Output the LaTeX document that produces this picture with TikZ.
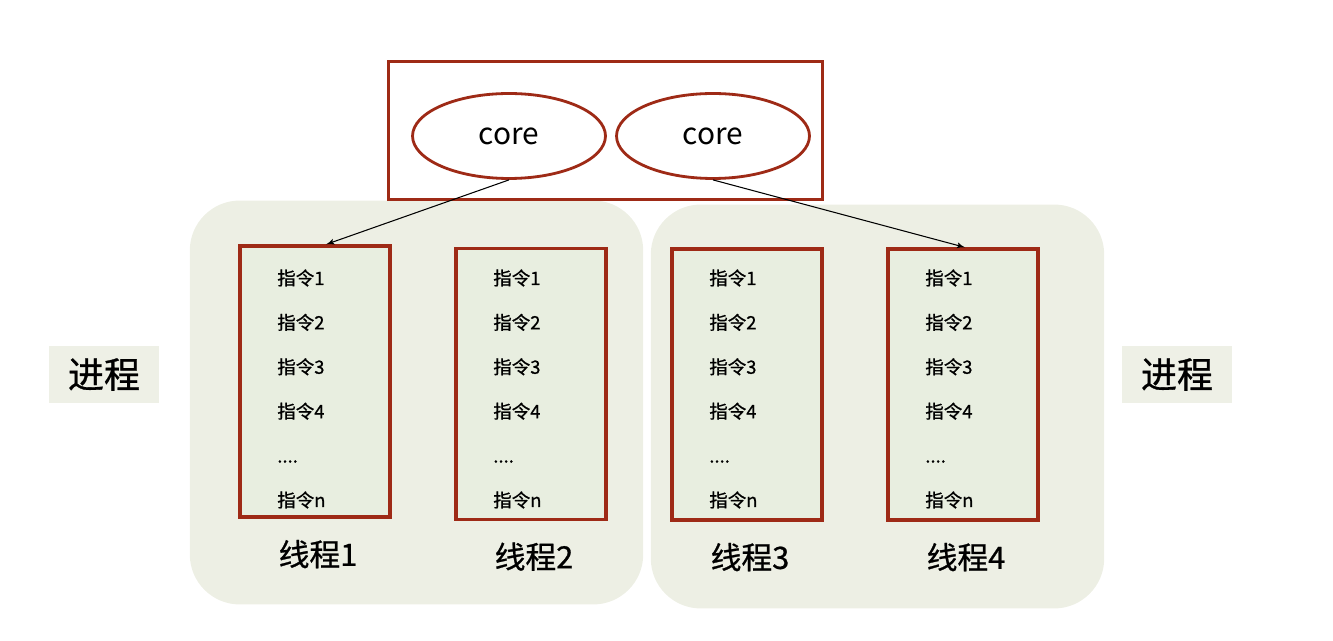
\documentclass[tikz,border=0pt]{standalone}
\usepackage{fontspec}
\setmainfont{Noto Sans CJK SC}
\newfontfamily\heavycjk[FakeBold=0.8]{Noto Sans CJK SC}
\usetikzlibrary{calc,arrows,positioning,shapes.geometric}
\definecolor{corered}{RGB}{158,42,22}
\definecolor{procbg}{RGB}{237,239,228}
\definecolor{thrbg}{RGB}{232,238,224}
\definecolor{tagbg}{RGB}{238,240,230}
\newcommand{\instrdots}{....}
\tikzstyle{cpubox} = [draw=corered, fill=white, line width=1.7pt, rectangle,
    minimum width=8.7cm, minimum height=2.78cm]
\tikzstyle{core} = [draw=corered, fill=white, line width=1.6pt, ellipse,
    minimum width=3.86cm, minimum height=1.7cm, font=\fontsize{17pt}{20pt}\selectfont]
\tikzstyle{proc} = [fill=procbg, rectangle, rounded corners=1cm,
    minimum width=9.07cm, minimum height=8.08cm]
\tikzstyle{thread} = [draw=corered, fill=thrbg, line width=1.9pt, rectangle,
    minimum width=3cm, minimum height=5.42cm]
\tikzstyle{instr} = [anchor=base west, inner sep=0pt, font=\heavycjk\fontsize{10.5pt}{12pt}\selectfont]
\tikzstyle{thrlabel} = [inner sep=0pt, font=\heavycjk\fontsize{17.5pt}{20pt}\selectfont]
\tikzstyle{tag} = [fill=tagbg, rectangle, minimum width=2.22cm, minimum height=1.14cm,
    font=\heavycjk\fontsize{20.5pt}{22pt}\selectfont]

\begin{document}
\begin{tikzpicture}[x=0.02cm, y=-0.02cm, >=latex', every node/.style={text centered}]
\useasboundingbox (0,0) rectangle (1333,641);

% process groups
\node (proc1) [proc] at (416.5,402.5) {};
\node (proc2) [proc] at (877.5,406.5) {};

\node (tagl) [tag] at (104,374.5) {进程};
\node (tagr) [tag] at (1177,374.5) {进程};

% cpu with two cores
\node (cpu) [cpubox] at (605.5,130.5) {};
\node (e1) [core] at (509,136) {core};
\node (e2) [core] at (713,136) {core};

% threads
\node (t1) [thread] at (315,381.5) {};
\node (t2) [thread] at (531,384) {};
\node (t3) [thread] at (747,384.5) {};
\node (t4) [thread] at (963,384.5) {};

\foreach \t/\xl in {1/240,2/456,3/672,4/888} {
  \foreach \r/\txt in {0/指令1,1/指令2,2/指令3,3/指令4,4/\instrdots,5/指令n}
    \node (i\t\r) [instr] at (\xl+37,285+44.4*\r) {\txt};
  \node (lab\t) [thrlabel, below=0.42cm of t\t, xshift=3*0.02cm] {线程\t};
}

\draw[->, line width=0.6pt] (e1.south) -- ($(t1.north west)!.573!(t1.north east)$);
\draw[->, line width=0.6pt] (e2.south) -- ($(t4.north west)!.513!(t4.north east)$);

\end{tikzpicture}
\end{document}
